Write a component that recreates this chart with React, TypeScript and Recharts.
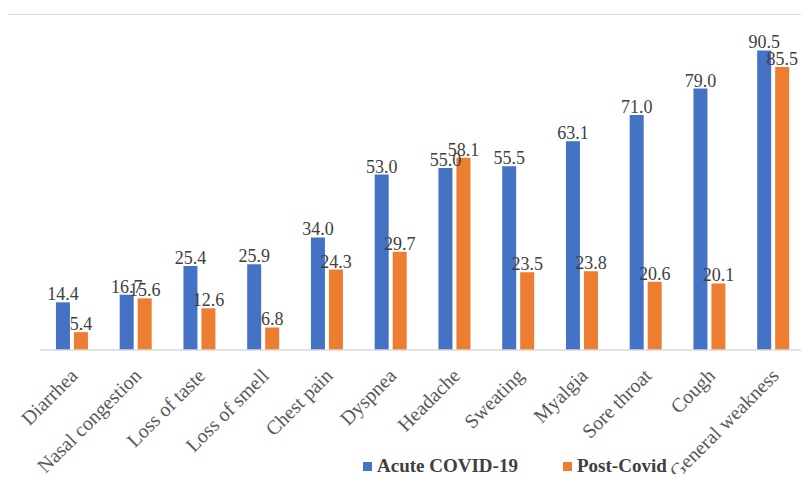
import { BarChart, Bar, XAxis, YAxis, LabelList } from 'recharts'

const SYMPTOMS = [
  'Diarrhea',
  'Nasal congestion',
  'Loss of taste',
  'Loss of smell',
  'Chest pain',
  'Dyspnea',
  'Headache',
  'Sweating',
  'Myalgia',
  'Sore throat',
  'Cough',
  'General weakness',
]

const ACUTE = [14.4, 16.7, 25.4, 25.9, 34.0, 53.0, 55.0, 55.5, 63.1, 71.0, 79.0, 90.5]
const POST = [5.4, 15.6, 12.6, 6.8, 24.3, 29.7, 58.1, 23.5, 23.8, 20.6, 20.1, 85.5]

const BLUE = '#4472C4'
const ORANGE = '#ED7D31'
const SERIF = '"Liberation Serif", "Times New Roman", serif'

const chartData = SYMPTOMS.map((name, i) => ({
  name,
  acute: ACUTE[i],
  post: POST[i],
}))

const fmt = (v: any) => Number(v).toFixed(1)

function RotatedTick(props: any) {
  const { x, y, payload } = props
  return (
    <g transform={`translate(${x + 7},${y + 19})`}>
      <text
        transform="rotate(-45)"
        textAnchor="end"
        fontFamily={SERIF}
        fontSize={20}
        fill="#595959"
      >
        {payload.value}
      </text>
    </g>
  )
}

const legendItems = [
  { label: 'Acute COVID-19', color: BLUE, left: 363 },
  { label: 'Post-Covid', color: ORANGE, left: 563 },
]

export default function App() {
  return (
    <div style={{ position: 'relative', width: 809, height: 482, margin: -8, background: '#fff', overflow: 'hidden' }}>
      <div
        style={{
          position: 'absolute',
          left: 6,
          top: 14,
          width: 820,
          height: 490,
          border: '1.5px solid #d9d9d9',
        }}
      />
      <div style={{ position: 'absolute', left: 0, top: 0 }}>
        <BarChart
          width={809}
          height={482}
          data={chartData}
          margin={{ top: 19, right: 4, bottom: 0, left: 40 }}
          barCategoryGap="25%"
          barGap={4}
        >
          <YAxis hide domain={[0, 100]} />
          <XAxis
            dataKey="name"
            interval={0}
            height={132}
            tickLine={false}
            axisLine={{ stroke: '#d9d9d9', strokeWidth: 1.5 }}
            tick={<RotatedTick />}
          />
          <Bar dataKey="acute" name="Acute COVID-19" fill={BLUE} isAnimationActive={false}>
            <LabelList
              dataKey="acute"
              position="top"
              offset={2}
              formatter={fmt}
              style={{ fontFamily: SERIF, fontSize: 18, fill: '#404040' }}
            />
          </Bar>
          <Bar dataKey="post" name="Post-Covid" fill={ORANGE} isAnimationActive={false}>
            <LabelList
              dataKey="post"
              position="top"
              offset={2}
              formatter={fmt}
              style={{ fontFamily: SERIF, fontSize: 18, fill: '#404040' }}
            />
          </Bar>
        </BarChart>
      </div>
      {legendItems.map((it) => (
        <div
          key={it.label}
          style={{
            position: 'absolute',
            left: it.left,
            top: 455,
            display: 'flex',
            alignItems: 'center',
            fontFamily: SERIF,
            fontSize: 19,
            fontWeight: 'bold',
            color: '#404040',
            lineHeight: '22px',
          }}
        >
          <span style={{ width: 9, height: 9, background: it.color, marginRight: 5 }} />
          <span>{it.label}</span>
        </div>
      ))}
    </div>
  )
}
